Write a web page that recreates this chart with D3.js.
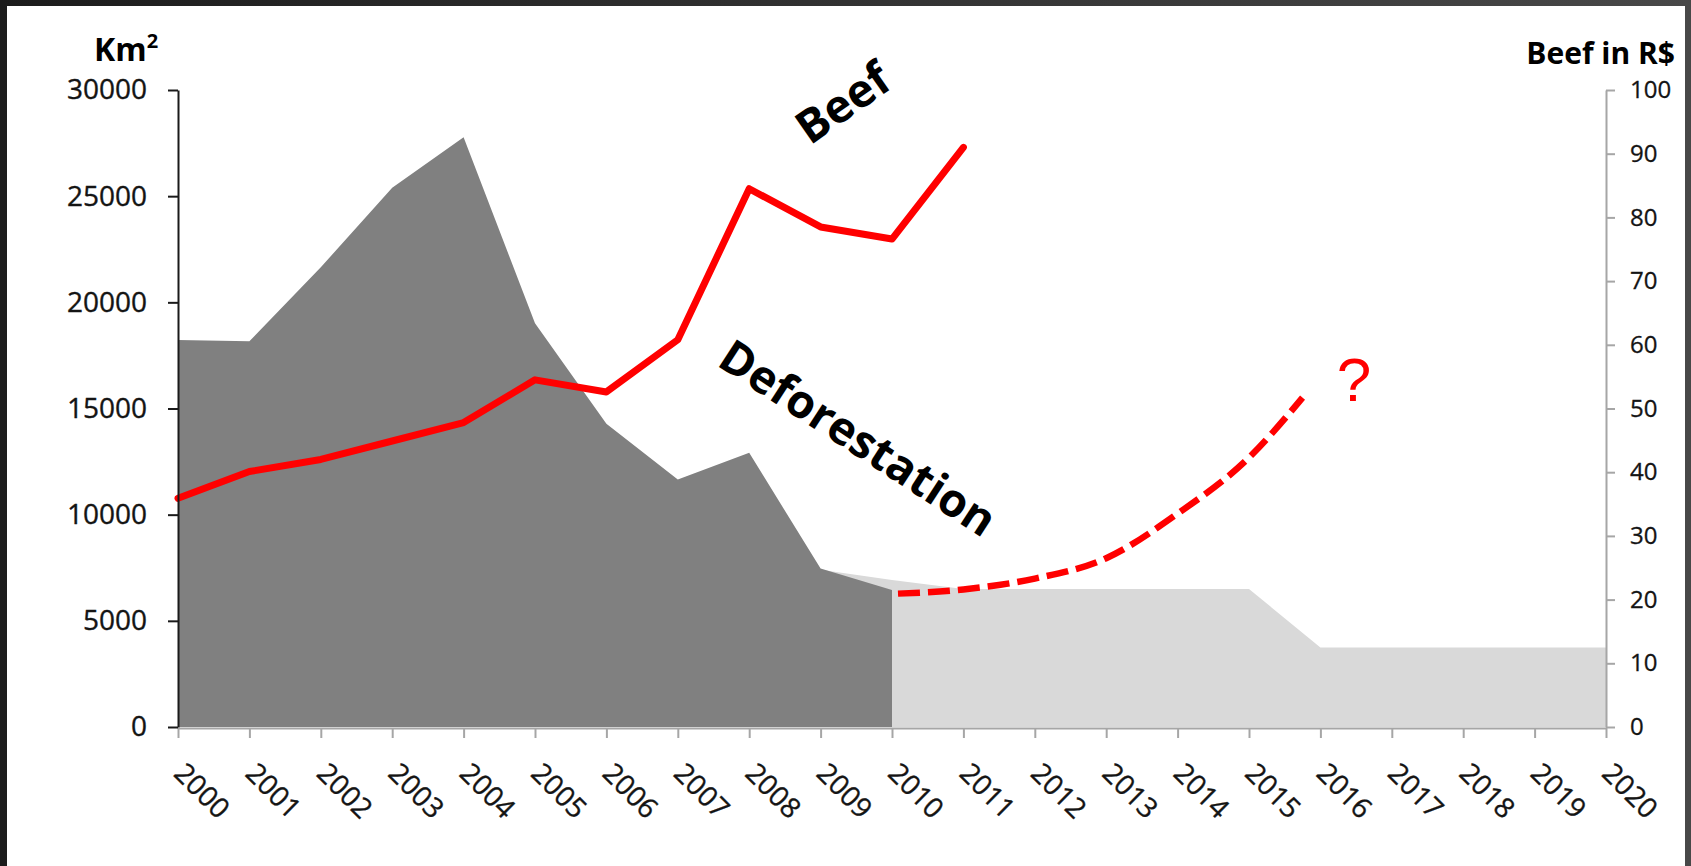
<!DOCTYPE html>
<html>
<head>
<meta charset="utf-8">
<script src="https://cdn.jsdelivr.net/npm/d3@7"></script>
<style>
  html, body { margin: 0; padding: 0; width: 1691px; height: 866px; overflow: hidden;
    background: linear-gradient(to right, #1c1c1c, #484848); }
  svg { display: block; }
</style>
</head>
<body>
<svg id="chart" width="1691" height="866"></svg>
<script>
// Annual deforestation in the Legal Amazon (km²), 2000–2010
const deforestYears = [2000, 2001, 2002, 2003, 2004, 2005, 2006, 2007, 2008, 2009, 2010];
const deforestKm2 = [18226, 18165, 21651, 25396, 27772, 19014, 14286, 11651, 12911, 7464, 6451];

// Reduction target path (km²), 2009–2020
const targetYears = [2009, 2010, 2011, 2012, 2013, 2014, 2015, 2016, 2017, 2018, 2019, 2020];
const targetKm2 = [7400, 6920, 6500, 6500, 6500, 6500, 6500, 3750, 3750, 3750, 3750, 3750];

// Beef price (R$), 2000–2011
const beefYears = [2000, 2001, 2002, 2003, 2004, 2005, 2006, 2007, 2008, 2009, 2010, 2011];
const beefPrice = [35.9, 40.1, 42.0, 44.9, 47.8, 54.5, 52.6, 60.8, 84.5, 78.5, 76.6, 91.0];

// Speculative outlook curve (R$ scale)
const outlookYears = [2010, 2011, 2012, 2013, 2014, 2015, 2015.75];
const outlookValues = [20.9, 21.6, 23.3, 26.5, 33.5, 42.3, 51.7];

// Axis ticks
const yearTicks = d3.range(2000, 2021);
const kmTicks = [0, 5000, 10000, 15000, 20000, 25000, 30000];
const brlTicks = [0, 10, 20, 30, 40, 50, 60, 70, 80, 90, 100];

const svg = d3.select("#chart");
const W = 1691, H = 866;
const plot = { left: 178, right: 1606, top: 90, bottom: 727 };

// page panel
svg.append("rect")
  .attr("x", 7).attr("y", 6)
  .attr("width", 1685 - 7).attr("height", H - 6)
  .attr("fill", "#ffffff");

const x = d3.scaleLinear().domain([2000, 2020]).range([plot.left, plot.right]);
const yKm = d3.scaleLinear().domain([0, 30000]).range([plot.bottom, plot.top]);
const yBrl = d3.scaleLinear().domain([0, 100]).range([plot.bottom, plot.top]);

const FONT = "'Open Sans', 'Liberation Sans', sans-serif";
const LABEL = "#141414";

// areas
const targetData = targetYears.map((yr, i) => ({ yr, v: targetKm2[i] }));
const deforestData = deforestYears.map((yr, i) => ({ yr, v: deforestKm2[i] }));

const kmArea = d3.area()
  .x(d => x(d.yr))
  .y0(yKm(0))
  .y1(d => yKm(d.v));

svg.append("path")
  .datum(targetData)
  .attr("d", kmArea)
  .attr("fill", "#d9d9d9");

svg.append("path")
  .datum(deforestData)
  .attr("d", kmArea)
  .attr("fill", "#808080");

// beef price line
const beefData = beefYears.map((yr, i) => ({ yr, v: beefPrice[i] }));
const brlLine = d3.line().x(d => x(d.yr)).y(d => yBrl(d.v));

svg.append("path")
  .datum(beefData)
  .attr("d", brlLine)
  .attr("fill", "none")
  .attr("stroke", "#ff0000")
  .attr("stroke-width", 7)
  .attr("stroke-linejoin", "round")
  .attr("stroke-linecap", "round");

// outlook dashed curve
const outlookData = outlookYears.map((yr, i) => ({ yr, v: outlookValues[i] }));
svg.append("path")
  .datum(outlookData)
  .attr("d", d3.line().x(d => x(d.yr)).y(d => yBrl(d.v)).curve(d3.curveMonotoneX))
  .attr("fill", "none")
  .attr("stroke", "#ff0000")
  .attr("stroke-width", 6.5)
  .attr("stroke-dasharray", "22,8")
  .attr("stroke-dashoffset", -6);

// x axis
const xAxis = svg.append("g")
  .attr("transform", `translate(0,${plot.bottom + 1})`)
  .call(d3.axisBottom(x).tickValues(yearTicks).tickFormat(d3.format("d")).tickSize(10).tickSizeOuter(0));
xAxis.select(".domain").attr("stroke", "#a6a6a6").attr("stroke-width", 2);
xAxis.selectAll(".tick line").attr("stroke", "#a6a6a6").attr("stroke-width", 2);
xAxis.selectAll(".tick text")
  .attr("font-family", FONT)
  .attr("font-size", 28)
  .attr("fill", LABEL)
  .attr("stroke", LABEL).attr("stroke-width", 0.35)
  .attr("text-anchor", "start")
  .attr("dy", null)
  .attr("y", 0)
  .attr("transform", "translate(-6,47) rotate(45)");

// left axis
const leftAxis = svg.append("g")
  .attr("transform", `translate(${plot.left},0)`)
  .call(d3.axisLeft(yKm).tickValues(kmTicks).tickFormat(d3.format("d")).tickSize(10).tickSizeOuter(0));
leftAxis.select(".domain").attr("stroke", "#1a1a1a").attr("stroke-width", 2);
leftAxis.selectAll(".tick line").attr("stroke", "#1a1a1a").attr("stroke-width", 2);
leftAxis.selectAll(".tick text")
  .attr("font-family", FONT)
  .attr("font-size", 28)
  .attr("fill", LABEL)
  .attr("stroke", LABEL).attr("stroke-width", 0.35)
  .attr("x", -31);

// right axis
const rightAxis = svg.append("g")
  .attr("transform", `translate(${plot.right},0)`)
  .call(d3.axisRight(yBrl).tickValues(brlTicks).tickFormat(d3.format("d")).tickSize(9).tickSizeOuter(0));
rightAxis.select(".domain").attr("stroke", "#a6a6a6").attr("stroke-width", 2);
rightAxis.selectAll(".tick line").attr("stroke", "#a6a6a6").attr("stroke-width", 2);
rightAxis.selectAll(".tick text")
  .attr("font-family", FONT)
  .attr("font-size", 24)
  .attr("fill", LABEL)
  .attr("stroke", LABEL).attr("stroke-width", 0.3)
  .attr("x", 24);

// axis titles
const kmTitle = svg.append("text")
  .attr("x", 94).attr("y", 61)
  .attr("font-family", FONT).attr("font-weight", "bold")
  .attr("font-size", 32).attr("fill", "#000");
kmTitle.append("tspan").text("Km");
kmTitle.append("tspan").attr("font-size", 20).attr("dy", -13).text("2");

svg.append("text")
  .attr("x", 1675).attr("y", 64)
  .attr("text-anchor", "end")
  .attr("font-family", FONT).attr("font-weight", "bold")
  .attr("font-size", 30).attr("fill", "#000")
  .text("Beef in R$");

// series annotations
svg.append("text")
  .attr("transform", "translate(843,103) rotate(-35)")
  .attr("text-anchor", "middle").attr("dy", "0.35em")
  .attr("font-family", FONT).attr("font-weight", "bold")
  .attr("font-size", 46).attr("fill", "#000")
  .text("Beef");

svg.append("text")
  .attr("transform", "translate(858,438) rotate(33)")
  .attr("text-anchor", "middle").attr("dy", "0.35em")
  .attr("font-family", FONT).attr("font-weight", "bold")
  .attr("font-size", 46).attr("fill", "#000")
  .text("Deforestation");

svg.append("text")
  .attr("x", 1354).attr("y", 401)
  .attr("text-anchor", "middle")
  .attr("font-family", "'Liberation Sans', sans-serif")
  .attr("font-size", 62).attr("fill", "#ff0000")
  .text("?");
</script>
</body>
</html>
